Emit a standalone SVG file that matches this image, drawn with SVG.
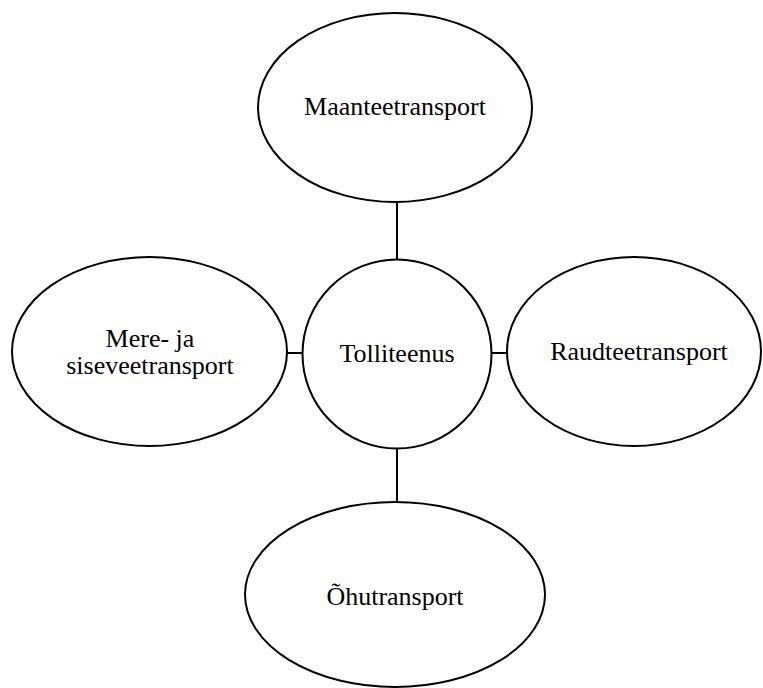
<svg xmlns="http://www.w3.org/2000/svg" width="763" height="688" viewBox="0 0 763 688">
<style>
.n{fill:#fff;stroke:#000;stroke-width:2}
.c{stroke:#000;stroke-width:2;fill:none}
text{font-family:"Liberation Serif","Times New Roman",serif;font-size:26px;fill:#000;text-anchor:middle}
</style>
<rect width="763" height="688" fill="#fff"/>
<g id="connectors">
<line class="c" x1="397" y1="202" x2="397" y2="260"/>
<line class="c" x1="287" y1="353" x2="303" y2="353"/>
<line class="c" x1="491" y1="353" x2="507" y2="353"/>
<line class="c" x1="397" y1="448" x2="397" y2="502"/>
</g>
<g id="center">
<circle class="n" cx="397" cy="354" r="94.5"/>
<text x="397" y="362">Tolliteenus</text>
</g>
<g id="top">
<ellipse class="n" cx="395" cy="107.5" rx="137" ry="94.5"/>
<text x="395" y="115">Maanteetransport</text>
</g>
<g id="left">
<ellipse class="n" cx="149.5" cy="351.5" rx="137.5" ry="94.5"/>
<text x="150" y="347">Mere- ja</text>
<text x="150" y="374">siseveetransport</text>
</g>
<g id="right">
<ellipse class="n" cx="634" cy="351.5" rx="127" ry="94.5"/>
<text x="639" y="360">Raudteetransport</text>
</g>
<g id="bottom">
<ellipse class="n" cx="395" cy="594.5" rx="150" ry="92.5"/>
<text x="395" y="605">Õhutransport</text>
</g>
</svg>
